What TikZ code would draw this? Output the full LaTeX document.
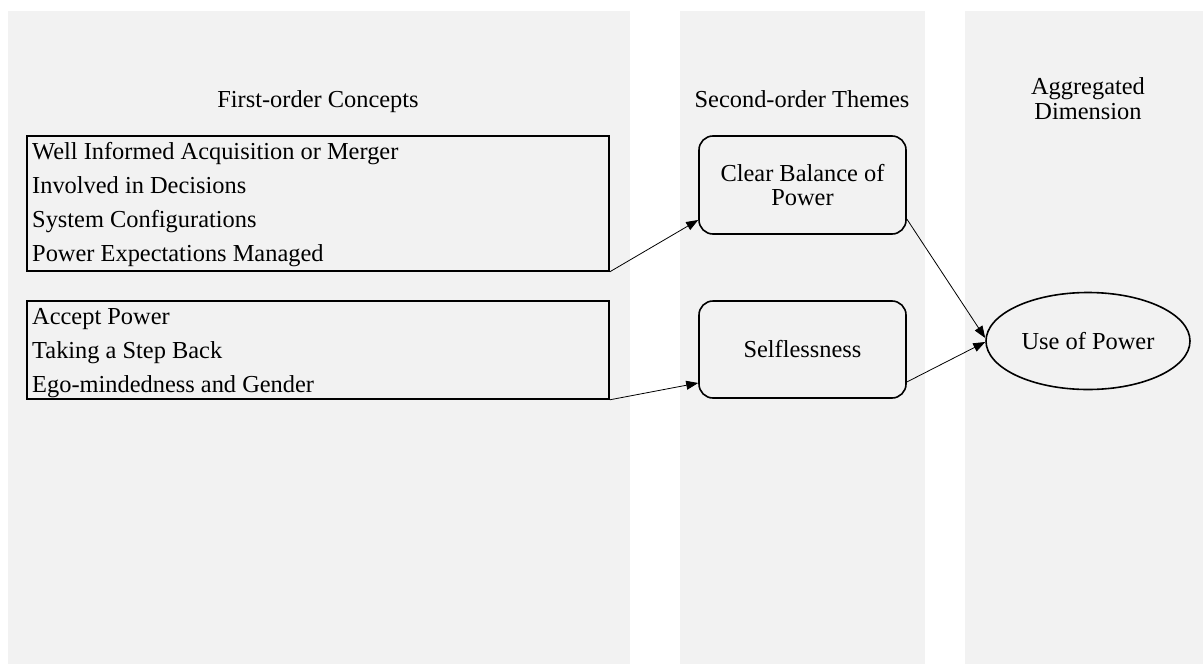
\documentclass[tikz,border=0pt]{standalone}
\usepackage{fontspec}
\setmainfont{Liberation Serif}
\usetikzlibrary{arrows.meta,shapes.geometric}
\definecolor{panelgray}{HTML}{F2F2F2}
\begin{document}
\begin{tikzpicture}[x=1pt,y=-1pt,
  every node/.style={font=\fontsize{24.4}{24}\selectfont},
  panel/.style={fill=panelgray,draw=none},
  listbox/.style={draw,line width=1.6pt,rectangle,minimum width=582pt,inner sep=0},
  themebox/.style={draw,line width=1.6pt,rounded corners=14pt,minimum width=207pt,
    minimum height=97pt,inner sep=0,align=center},
  dimnode/.style={draw,line width=1.6pt,ellipse,minimum width=204pt,minimum height=97pt,inner sep=0},
  item/.style={anchor=base west,inner sep=0},
  heading/.style={anchor=base,inner sep=0},
  link/.style={line width=0.8pt,-{Triangle[length=12pt,width=9pt]}}
]
% canvas and column panels
\fill[white] (0,0) rectangle (1203,664);
\useasboundingbox (0,0) rectangle (1203,664);
\fill[panel] (8,11) rectangle (630,664);
\fill[panel] (680,11) rectangle (925,664);
\fill[panel] (965,11) rectangle (1203,664);

% column headings
\node[heading] (h1) at (318,107) {First-order Concepts};
\node[heading] (h2) at (802,107) {Second-order Themes};
\node[heading] (h3a) at (1088,94) {Aggregated};
\node[heading] (h3b) at (1088,119) {Dimension};

% first-order concept groups
\node[listbox,minimum height=135pt] (fc1) at (318,203.5) {};
\node[item] (c11) at (32,159) {Well Informed Acquisition or Merger};
\node[item] (c12) at (32,193) {Involved in Decisions};
\node[item] (c13) at (32,227.5) {System Configurations};
\node[item] (c14) at (32,261) {Power Expectations Managed};

\node[listbox,minimum height=98pt] (fc2) at (318,350) {};
\node[item] (c21) at (32,324) {Accept Power};
\node[item] (c22) at (32,358) {Taking a Step Back};
\node[item] (c23) at (32,392) {Ego-mindedness and Gender};

% second-order themes
\node[themebox,minimum height=98pt] (clear) at (802.5,185) {Clear Balance of\\Power};
\node[themebox] (self) at (802.5,349.5) {Selflessness};

% aggregated dimension
\node[dimnode] (use) at (1088,341) {Use of Power};

% links
\draw[link] (fc1.south east) -- ([yshift=-35pt]clear.west);
\draw[link] (fc2.south east) -- ([yshift=-33.5pt]self.west);
\draw[link] ([yshift=-34pt]clear.east) -- ([yshift=3pt]use.west);
\draw[link] ([yshift=-32.5pt]self.east) -- ([yshift=-1pt]use.west);
\end{tikzpicture}
\end{document}
